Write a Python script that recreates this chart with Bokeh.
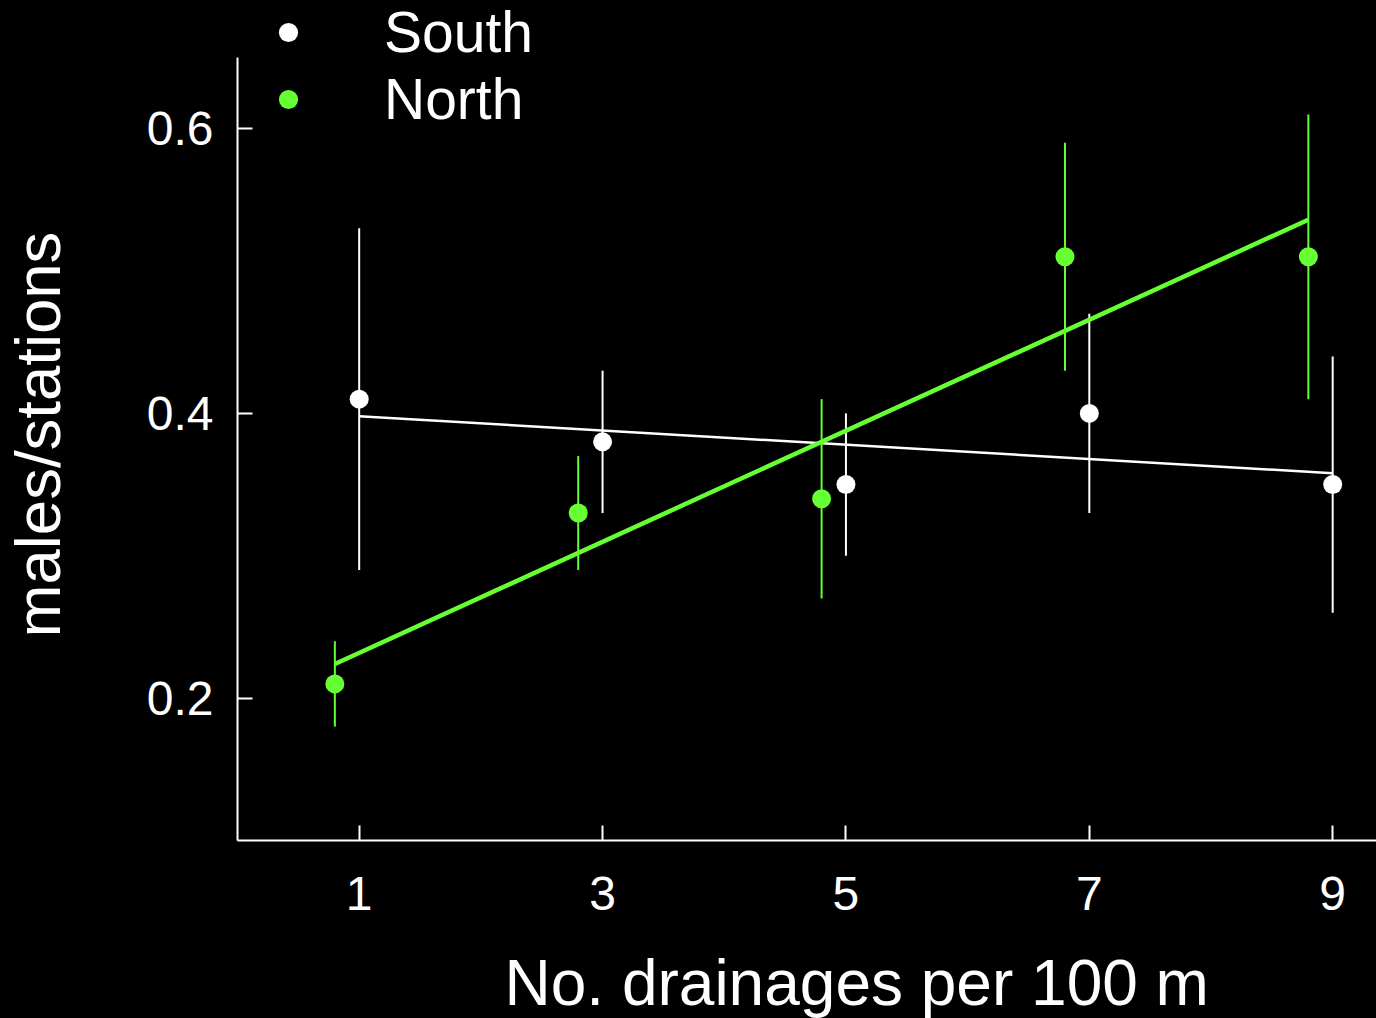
import numpy as np
from bokeh.plotting import figure
from bokeh.models import Range1d, FixedTicker, Legend, LegendItem, Title
from bokeh.embed import file_html
from bokeh.resources import INLINE

# ---- data ----
south_x = [1, 3, 5, 7, 9]
south_y = [0.41, 0.38, 0.35, 0.40, 0.35]
south_lo = [0.29, 0.33, 0.30, 0.33, 0.26]
south_hi = [0.53, 0.43, 0.40, 0.47, 0.44]

north_x = [0.8, 2.8, 4.8, 6.8, 8.8]
north_y = [0.21, 0.33, 0.34, 0.51, 0.51]
north_lo = [0.18, 0.29, 0.27, 0.43, 0.41]
north_hi = [0.24, 0.37, 0.41, 0.59, 0.61]

x_ticks = [1, 3, 5, 7, 9]
y_ticks = [0.2, 0.4, 0.6]

series_names = ["South", "North"]
x_title = "No. drainages per 100 m"
y_title = "males/stations"

FONT = "Liberation Sans"
WHITE = "#ffffff"
GREEN = "#66ff33"

# frame reaches the top of the page so the legend is not clipped;
# the y axis line itself is bounded to 0.1..0.65
p = figure(width=1376, height=1018,
           x_range=Range1d(0, 9.36), y_range=Range1d(0.1, 0.69),
           output_backend="svg", toolbar_location=None,
           background_fill_color="black",
           border_fill_color="black",
           min_border_left=237, min_border_right=0,
           min_border_top=0, min_border_bottom=178)
p.styles = {"background-color": "black"}
p.outline_line_color = None
p.outline_line_alpha = 0
p.grid.visible = False

for ax in (p.xaxis[0], p.yaxis[0]):
    ax.axis_line_color = WHITE
    ax.axis_line_width = 2
    ax.major_tick_line_color = WHITE
    ax.major_tick_line_width = 2
    ax.major_tick_in = 15
    ax.major_tick_out = 0
    ax.minor_tick_line_color = None
    ax.major_label_text_color = WHITE
    ax.major_label_text_font = FONT
    ax.major_label_text_font_size = "48px"
    # invisible spacer label, used to push the real titles outward
    ax.axis_label = " "
    ax.axis_label_text_font_size = "2px"
    ax.axis_label_text_color = WHITE

p.xaxis[0].ticker = FixedTicker(ticks=x_ticks)
p.yaxis[0].ticker = FixedTicker(ticks=y_ticks)
p.yaxis[0].bounds = (0.1, 0.65)
p.xaxis[0].major_label_standoff = 36
p.yaxis[0].major_label_standoff = 24
p.xaxis[0].axis_label_standoff = 27
p.yaxis[0].axis_label_standoff = 66


def fit_line(xs, ys):
    k, b = np.polyfit(xs, ys, 1)
    xe = np.array([min(xs), max(xs)])
    return xe, k * xe + b


# South
p.segment(x0=south_x, y0=south_lo, x1=south_x, y1=south_hi,
          line_color=WHITE, line_width=2)
sx, sy = fit_line(south_x, south_y)
p.line(sx, sy, line_color=WHITE, line_width=2.5)
s_pts = p.scatter(south_x, south_y, size=19, fill_color=WHITE, line_color=None)

# North
p.segment(x0=north_x, y0=north_lo, x1=north_x, y1=north_hi,
          line_color=GREEN, line_width=2)
nx, ny = fit_line(north_x, north_y)
p.line(nx, ny, line_color=GREEN, line_width=4.5)
n_pts = p.scatter(north_x, north_y, size=19, fill_color=GREEN, line_color=None)

legend = Legend(items=[LegendItem(label=series_names[0], renderers=[s_pts]),
                       LegendItem(label=series_names[1], renderers=[n_pts])],
                location=(27, 708), padding=0, spacing=1, margin=0,
                glyph_width=48, glyph_height=48, label_standoff=72,
                label_text_font=FONT, label_text_font_size="57px",
                label_text_color=WHITE,
                background_fill_alpha=0, border_line_color=None)
p.add_layout(legend)

xt = Title(text=x_title, align="left", offset=267, vertical_align="bottom",
           standoff=0, text_font=FONT, text_font_size="64px",
           text_font_style="normal", text_color=WHITE)
p.add_layout(xt, "below")

yt = Title(text=y_title, align="left", offset=203, vertical_align="bottom",
           standoff=0, text_font=FONT, text_font_size="63.5px",
           text_font_style="normal", text_color=WHITE)
p.add_layout(yt, "left")

open("out.html", "w").write(file_html(p, INLINE))
